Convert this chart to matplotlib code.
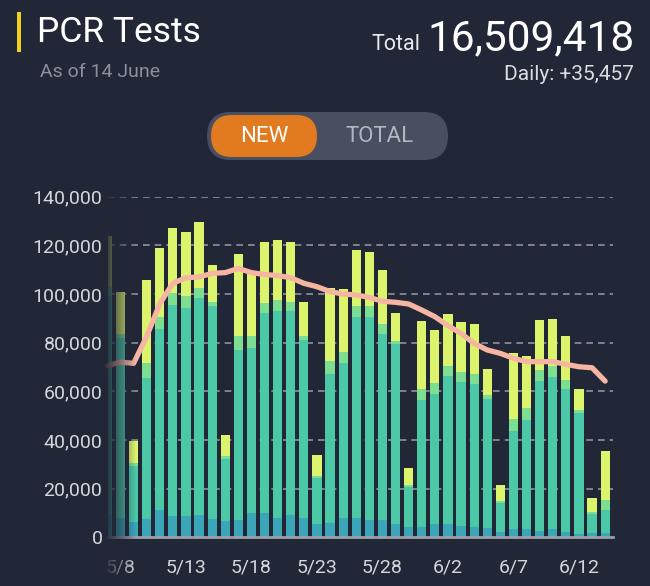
import numpy as np
import matplotlib
matplotlib.use("Agg")
import matplotlib.pyplot as plt
from matplotlib.patches import FancyBboxPatch, Rectangle

plt.rcParams['font.family'] = ['Roboto', 'DejaVu Sans']

# daily PCR tests, 5/7 .. 6/14 (cumulative stack tops, in thousands)
dates = ['5/7', '5/8', '5/9', '5/10', '5/11', '5/12', '5/13', '5/14', '5/15', '5/16',
         '5/17', '5/18', '5/19', '5/20', '5/21', '5/22', '5/23', '5/24', '5/25', '5/26',
         '5/27', '5/28', '5/29', '5/30', '5/31', '6/1', '6/2', '6/3', '6/4', '6/5',
         '6/6', '6/7', '6/8', '6/9', '6/10', '6/11', '6/12', '6/13', '6/14']
teal_top = [9.0, 7.8, 6.4, 7.4, 11.2, 8.8, 8.8, 9.3, 7.7, 6.8,
            7.1, 10.1, 10.0, 8.1, 9.2, 8.1, 5.5, 6.0, 7.9, 7.8,
            7.0, 7.0, 5.3, 4.4, 4.1, 5.3, 5.5, 4.8, 4.4, 4.0,
            2.3, 3.3, 3.3, 2.7, 3.6, 2.2, 1.4, 1.9, 1.9]
green_top = [99.0, 81.8, 29.5, 65.5, 85.6, 95.5, 94.2, 98.4, 94.9, 32.2,
             77.0, 78.0, 92.3, 93.0, 93.0, 81.2, 24.4, 67.0, 71.5, 90.7,
             90.7, 83.6, 79.6, 20.5, 56.3, 59.0, 66.4, 63.7, 63.0, 57.0,
             14.2, 43.8, 48.2, 64.2, 66.0, 60.8, 51.0, 9.5, 11.2]
light_top = [103.0, 83.6, 30.4, 71.6, 90.4, 100.3, 99.2, 102.6, 96.6, 33.4,
             82.8, 82.8, 96.5, 97.5, 96.7, 82.6, 25.2, 72.5, 76.2, 94.9,
             94.9, 87.7, 80.5, 21.6, 60.8, 63.3, 70.5, 67.8, 67.1, 58.4,
             15.1, 48.8, 53.2, 68.9, 70.4, 64.5, 52.5, 10.4, 15.3]
total = [124.0, 100.7, 39.7, 105.9, 119.0, 127.3, 125.6, 129.7, 111.8, 42.2,
         116.6, 108.6, 121.5, 122.0, 121.4, 96.6, 33.7, 102.6, 102.0, 117.9,
         117.3, 109.7, 92.0, 28.5, 88.9, 85.3, 91.9, 88.4, 87.5, 69.2,
         21.5, 75.6, 74.5, 89.2, 89.6, 82.6, 61.0, 16.2, 35.457]
avg7 = [70.5, 72.0, 71.5, 82.5, 96.0, 104.4, 106.7, 107.0, 108.5, 108.8,
        110.5, 108.8, 108.0, 107.6, 106.7, 104.4, 103.0, 101.0, 100.0, 99.6,
        98.6, 97.0, 96.6, 95.9, 93.4, 90.7, 87.0, 83.8, 79.7, 77.0,
        75.6, 73.6, 72.2, 72.2, 72.2, 71.1, 70.1, 69.7, 64.2]
tick_labels = ['5/8', '5/13', '5/18', '5/23', '5/28', '6/2', '6/7', '6/12']

BG = '#222737'
W, H = 650, 586


def fx(x):
    return x / W


def fy(y):
    return 1 - y / H


fig = plt.figure(figsize=(6.5, 5.86), dpi=100, facecolor=BG)

# header drawn in pixel coordinates
hd = fig.add_axes([0, 0, 1, 1], zorder=0)
hd.set_xlim(0, W)
hd.set_ylim(H, 0)
hd.axis('off')
hd.add_patch(Rectangle((17, 12), 4, 40, color='#f0d020', lw=0))
hd.text(37, 32, 'PCR Tests', color='white', fontsize=25.5, va='center')
hd.text(40, 72, 'As of 14 June', color='#8b909b', fontsize=14, va='center')
hd.text(635, 39, '16,509,418', color='white', fontsize=30.5, va='center', ha='right')
hd.text(421, 45, 'Total', color='#e6e8eb', fontsize=15.5, va='center', ha='right')
hd.text(634, 75, 'Daily: +35,457', color='#d9dce0', fontsize=15, va='center', ha='right')

# NEW / TOTAL toggle
hd.add_patch(FancyBboxPatch((207, 112), 241, 48, boxstyle='round,pad=0,rounding_size=24',
                            fc='#474f60', ec='none'))
hd.add_patch(FancyBboxPatch((211, 115), 106, 42, boxstyle='round,pad=0,rounding_size=21',
                            fc='#e27a20', ec='none'))
hd.text(264, 136, 'NEW', color='white', fontsize=16, ha='center', va='center')
hd.text(379, 136, 'TOTAL', color='#b3b7be', fontsize=16, ha='center', va='center')

# chart
ax = fig.add_axes([fx(108), fy(537.3), (613 - 108) / W, (537.3 - 196.7) / H], zorder=1)
ax.set_facecolor('none')
x = np.arange(len(dates)) - 1
teal = np.array(teal_top) * 1000
green = np.array(green_top) * 1000
light = np.array(light_top) * 1000
tot = np.array(total) * 1000
bw = 0.7
ax.bar(x, teal, width=bw, color='#3aa6b7', zorder=2)
ax.bar(x, green - teal, bottom=teal, width=bw, color='#4bc8a6', zorder=2)
ax.bar(x, light - green, bottom=green, width=bw, color='#7ddd90', zorder=2)
ax.bar(x, tot - light, bottom=light, width=bw, color='#dcf36c', zorder=2)
ax.plot(x, np.array(avg7) * 1000, color='#f6b5a2', lw=3.8, solid_capstyle='round',
        solid_joinstyle='round', zorder=3, clip_on=False)

ax.set_xlim(-0.95, 37.6)
ax.set_ylim(0, 140000)
ax.set_yticks(np.arange(0, 140001, 20000))
ax.set_yticklabels([f'{v:,}' for v in range(0, 140001, 20000)])
ax.set_xticks(np.arange(0, 36, 5))
ax.set_xticklabels(tick_labels)
ax.tick_params(axis='both', length=0, colors='#d3d6db', labelsize=14)
ax.tick_params(axis='x', pad=15)
ax.tick_params(axis='y', pad=4)
for v in range(20000, 140001, 20000):
    ax.axhline(v, color='#8d929c', lw=1.2, ls=(0, (4, 3)), zorder=1)
for s in ['top', 'right', 'left']:
    ax.spines[s].set_visible(False)
ax.spines['bottom'].set_color('#9aa0aa')
ax.spines['bottom'].set_linewidth(2)
ax.spines['bottom'].set_zorder(4)

# left fade of the scrolled chart
ov = fig.add_axes([fx(103), fy(582), 33 / W, (582 - 190) / H], zorder=2)
ov.axis('off')
grad = np.zeros((1, 64, 4))
grad[..., :3] = matplotlib.colors.to_rgb(BG)
grad[..., 3] = np.linspace(1, 0, 64) ** 0.9
ov.imshow(grad, aspect='auto', extent=(0, 1, 0, 1))

fig.savefig('out.png', dpi=100, facecolor=BG)
